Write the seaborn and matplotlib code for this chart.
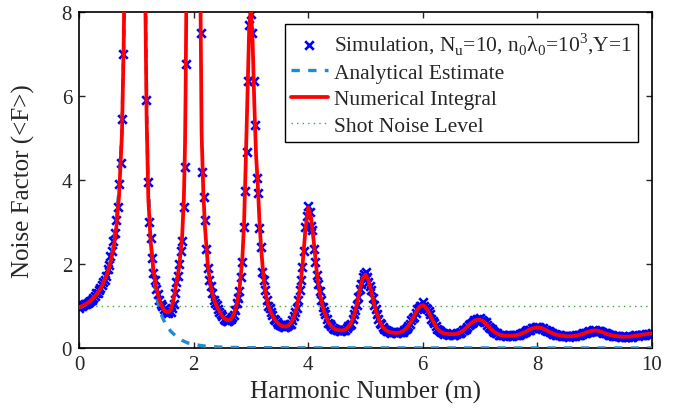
import numpy as np
import seaborn as sns
import matplotlib
matplotlib.use('Agg')
import matplotlib.pyplot as plt

# simulation points: harmonic number grid 0..10 step 0.05 ...
sim_m_a = np.round(np.arange(0, 10.001, 0.05), 3)
sim_F_a = [0.96, 1.01, 1.04, 1.07, 1.11, 1.19, 1.30, 1.37, 1.49, 1.63, 1.88, 2.18, 2.55, 3.05, 3.90, 5.45, 9.8, 21, 42, 60,
           72, 55, 33, 10.5, 3.95, 2.62, 1.78, 1.40, 1.14, 0.99, 0.86, 0.83, 0.86, 1.05, 1.58, 2.00, 2.55, 4.3, 14, 35,
           58, 33, 14.5, 4.2, 3.05, 1.90, 1.48, 1.15, 1.02, 0.86, 0.77, 0.67, 0.64, 0.70, 0.78, 1.06, 1.36, 2.05, 3.75, 6.35,
           7.95, 6.35, 4.05, 2.85, 1.80, 1.38, 1.00, 0.86, 0.70, 0.63, 0.54, 0.53, 0.49, 0.55, 0.58, 0.77, 0.95, 1.38, 1.92, 2.88,
           3.38, 2.90, 2.35, 1.75, 1.36, 0.98, 0.80, 0.60, 0.53, 0.45, 0.44, 0.41, 0.43, 0.43, 0.52, 0.58, 0.80, 1.03, 1.40, 1.70,
           1.80, 1.58, 1.37, 1.02, 0.82, 0.60, 0.51, 0.42, 0.40, 0.36, 0.37, 0.35, 0.38, 0.39, 0.46, 0.52, 0.66, 0.75, 0.92, 0.99,
           1.10, 0.96, 0.88, 0.70, 0.59, 0.46, 0.41, 0.35, 0.35, 0.32, 0.34, 0.32, 0.35, 0.36, 0.42, 0.46, 0.55, 0.60, 0.67, 0.68,
           0.71, 0.65, 0.61, 0.51, 0.46, 0.38, 0.35, 0.30, 0.31, 0.28, 0.30, 0.28, 0.31, 0.30, 0.34, 0.35, 0.40, 0.43, 0.47, 0.47,
           0.51, 0.47, 0.47, 0.42, 0.40, 0.35, 0.34, 0.30, 0.31, 0.28, 0.29, 0.27, 0.29, 0.28, 0.31, 0.31, 0.35, 0.36, 0.40, 0.40,
           0.43, 0.40, 0.40, 0.36, 0.35, 0.31, 0.31, 0.28, 0.29, 0.26, 0.28, 0.26, 0.28, 0.27, 0.30, 0.29, 0.32, 0.31, 0.34, 0.33,
           0.36]
# ... and the in-between samples at 0.025 + 0.05k
sim_m_b = np.round(np.arange(0.025, 10.0, 0.05), 3)
sim_F_b = [0.99, 1.02, 1.05, 1.10, 1.15, 1.24, 1.31, 1.42, 1.58, 1.72, 1.97, 2.32, 2.75, 3.35, 4.40, 7.0, 14, 30, 50, 65,
           66, 45, 20, 5.9, 3.0, 2.15, 1.62, 1.28, 1.05, 0.92, 0.84, 0.88, 0.95, 1.30, 1.72, 2.31, 3.35, 6.75, 25, 50,
           50, 25, 7.5, 3.6, 2.35, 1.62, 1.30, 1.08, 0.93, 0.80, 0.70, 0.65, 0.66, 0.74, 0.90, 1.20, 1.70, 2.88, 4.67, 7.7,
           7.5, 5.3, 3.70, 2.40, 1.62, 1.15, 0.95, 0.78, 0.66, 0.57, 0.55, 0.50, 0.52, 0.56, 0.66, 0.86, 1.14, 1.62, 2.30, 3.15,
           3.25, 2.80, 2.05, 1.52, 1.15, 0.88, 0.70, 0.57, 0.48, 0.45, 0.42, 0.40, 0.44, 0.47, 0.54, 0.70, 0.90, 1.22, 1.52, 1.76,
           1.70, 1.48, 1.20, 0.93, 0.70, 0.56, 0.45, 0.41, 0.37, 0.37, 0.35, 0.37, 0.38, 0.43, 0.48, 0.58, 0.71, 0.84, 0.95, 1.01,
           1.00, 0.92, 0.80, 0.64, 0.52, 0.43, 0.38, 0.34, 0.33, 0.34, 0.32, 0.34, 0.35, 0.39, 0.44, 0.50, 0.58, 0.63, 0.66, 0.70,
           0.66, 0.62, 0.55, 0.48, 0.41, 0.36, 0.32, 0.31, 0.30, 0.29, 0.29, 0.30, 0.30, 0.32, 0.35, 0.37, 0.42, 0.44, 0.48, 0.49,
           0.49, 0.46, 0.44, 0.41, 0.37, 0.34, 0.31, 0.30, 0.29, 0.28, 0.28, 0.28, 0.28, 0.30, 0.30, 0.33, 0.35, 0.38, 0.39, 0.42,
           0.41, 0.40, 0.38, 0.35, 0.33, 0.30, 0.29, 0.28, 0.28, 0.27, 0.27, 0.27, 0.27, 0.28, 0.30, 0.30, 0.32, 0.32, 0.34, 0.34]
sim_m = np.concatenate([sim_m_a, sim_m_b])
sim_F = np.concatenate([sim_F_a, sim_F_b])

# numerical integral (denser near the sharp low harmonics)
num_m_head = [0.00, 0.10, 0.20, 0.30, 0.40, 0.50, 0.55, 0.60, 0.65, 0.70, 0.75, 0.78, 0.80, 0.85, 0.90, 1.00, 1.10,
              1.14, 1.16, 1.18, 1.21, 1.25, 1.30, 1.35, 1.40, 1.45, 1.50, 1.55, 1.60, 1.65, 1.70, 1.75, 1.80, 1.83,
              1.85, 1.86, 1.875, 1.90, 2.00, 2.10, 2.12, 2.14, 2.17, 2.20, 2.25, 2.30, 2.35, 2.40, 2.45, 2.50, 2.55,
              2.60, 2.65, 2.70, 2.75, 2.80, 2.85, 2.88, 2.91, 2.94, 2.97, 3.00, 3.03, 3.06, 3.09, 3.12, 3.15, 3.18,
              3.21, 3.25, 3.30, 3.35, 3.40, 3.45, 3.50, 3.55, 3.60, 3.65, 3.70, 3.75, 3.80, 3.85, 3.90, 3.95, 4.00,
              4.05, 4.10, 4.15, 4.20, 4.25]
num_F_head = [0.97, 1.03, 1.12, 1.26, 1.47, 1.80, 2.05, 2.35, 2.85, 3.65, 5.10, 7.2, 9.5, 20, 40, 70, 35,
              12, 8.0, 5.5, 3.55, 2.55, 1.85, 1.42, 1.16, 0.98, 0.88, 0.85, 0.90, 1.15, 1.55, 1.95, 2.65, 3.55,
              4.8, 6.0, 8.5, 15, 60, 15, 8.3, 5.1, 3.7, 2.85, 1.95, 1.45, 1.18, 1.0, 0.88, 0.76, 0.69,
              0.66, 0.68, 0.80, 1.02, 1.40, 2.10, 2.95, 4.4, 6.0, 7.6, 8.1, 7.3, 5.8, 4.6, 3.9, 3.0, 2.35,
              1.85, 1.35, 1.02, 0.84, 0.71, 0.62, 0.56, 0.52, 0.51, 0.53, 0.60, 0.74, 0.97, 1.35, 1.95, 2.80, 3.35,
              3.10, 2.50, 1.80, 1.32, 1.00]
num_m_tail = np.round(np.arange(4.30, 10.001, 0.05), 2)
num_F_tail = [0.78, 0.62, 0.52, 0.46, 0.43, 0.42, 0.42, 0.44, 0.50, 0.60, 0.78, 1.05, 1.38, 1.66,
              1.75, 1.62, 1.35, 1.05, 0.80, 0.62, 0.50, 0.43, 0.39, 0.37, 0.36, 0.36, 0.37, 0.40, 0.45, 0.53, 0.64, 0.77, 0.90, 0.99,
              1.02, 0.97, 0.86, 0.72, 0.58, 0.47, 0.40, 0.36, 0.34, 0.33, 0.33, 0.33, 0.34, 0.37, 0.41, 0.47, 0.54, 0.60, 0.65, 0.67,
              0.67, 0.64, 0.58, 0.51, 0.44, 0.38, 0.34, 0.31, 0.30, 0.29, 0.29, 0.29, 0.30, 0.31, 0.33, 0.36, 0.39, 0.43, 0.46, 0.48,
              0.49, 0.48, 0.46, 0.43, 0.39, 0.36, 0.33, 0.31, 0.30, 0.29, 0.28, 0.28, 0.28, 0.29, 0.30, 0.32, 0.34, 0.37, 0.39, 0.41,
              0.42, 0.41, 0.39, 0.37, 0.34, 0.32, 0.30, 0.29, 0.28, 0.27, 0.27, 0.27, 0.27, 0.28, 0.29, 0.30, 0.31, 0.32, 0.33, 0.34,
              0.35]
num_m = np.concatenate([num_m_head, num_m_tail])
num_F = np.concatenate([num_F_head, num_F_tail])

# analytical estimate (first harmonic only)
ana_m = [0.0, 0.1, 0.2, 0.3, 0.4, 0.5, 0.55, 0.6, 0.65, 0.7, 0.75, 0.8, 0.85, 0.9, 1.0, 1.1, 1.15, 1.18, 1.2,
         1.25, 1.3, 1.35, 1.4, 1.45, 1.5, 1.6, 1.7, 1.8, 1.9, 2.0, 2.2, 2.4, 2.6, 3.0, 4.0, 6.0, 8.0, 10.0]
ana_F = [0.95, 1.02, 1.12, 1.26, 1.48, 1.82, 2.08, 2.45, 2.98, 3.8, 5.2, 8.5, 15, 30, 60, 30, 10, 6.0, 4.3,
         2.6, 1.75, 1.25, 0.95, 0.75, 0.6, 0.4, 0.27, 0.18, 0.12, 0.085, 0.045, 0.025, 0.015, 0.008, 0.004, 0.002, 0.0015, 0.001]

shot_m = [0, 10]
shot_F = [1, 1]

sns.set_style('ticks')
plt.rcParams['font.family'] = ['Liberation Serif', 'DejaVu Serif']
plt.rcParams['mathtext.fontset'] = 'custom'
plt.rcParams['mathtext.rm'] = 'Liberation Serif'

fig, ax = plt.subplots(figsize=(6.88, 4.14), dpi=100)
fig.subplots_adjust(left=0.1148, right=0.9477, bottom=0.157, top=0.9686)

sns.scatterplot(x=sim_m, y=sim_F, ax=ax, marker='x', s=38, color='#0000ff', linewidth=1.9,
                label='Simulation, N$_\\mathrm{u}$=10, n$_0$λ$_0$=10$^3$,Y=1', zorder=2)
sns.lineplot(x=ana_m, y=ana_F, ax=ax, color='#1f8bd0', linewidth=2.4,
             label='Analytical Estimate', sort=False, estimator=None, zorder=3)
ax.lines[-1].set_dashes((2.5, 2.5))
sns.lineplot(x=num_m, y=num_F, ax=ax, color='#ff0000', linewidth=2.7,
             label='Numerical Integral', sort=False, estimator=None, zorder=4)
sns.lineplot(x=shot_m, y=shot_F, ax=ax, color='#3aaa3a', linewidth=1.0,
             label='Shot Noise Level', sort=False, estimator=None, zorder=1)
ax.lines[-1].set_dashes((1, 3))

ax.set_xlim(0, 10)
ax.set_ylim(0, 8)
ax.set_xticks([0, 2, 4, 6, 8, 10])
ax.set_yticks([0, 2, 4, 6, 8])
ax.tick_params(direction='in', top=True, right=True, length=4, width=1, labelsize=15, pad=5)
for s in ax.spines.values():
    s.set_linewidth(1.2)
    s.set_color('black')

ax.set_xlabel('Harmonic Number (m)', fontsize=18)
ax.set_ylabel('Noise Factor (<F>)', fontsize=18)
ax.xaxis.set_label_coords(0.5, -0.13)
ax.xaxis.label.set_va('center')
ax.yaxis.set_label_coords(-0.097, 0.5)
ax.yaxis.label.set_va('center')

leg = ax.legend(loc='upper right', bbox_to_anchor=(0.976, 0.964), borderaxespad=0, fontsize=15.5,
                frameon=True, fancybox=False, edgecolor='black', framealpha=1, handlelength=1.7,
                labelspacing=0.3, borderpad=0.3, handletextpad=0.3)
leg.get_frame().set_linewidth(1.0)

plt.savefig('out.png', dpi=100)
